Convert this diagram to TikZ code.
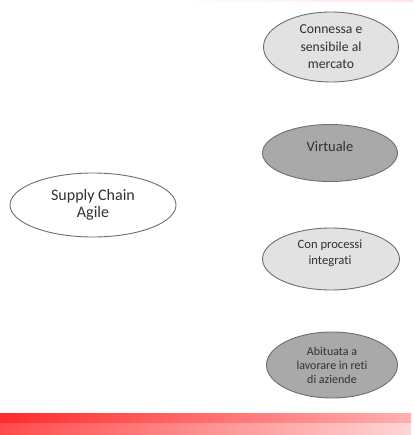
\documentclass[tikz,border=0pt]{standalone}
\usepackage{fontspec}
\setmainfont[Ligatures={NoCommon}]{Carlito}
\usetikzlibrary{shapes.geometric}
\definecolor{txt}{HTML}{303030}
\definecolor{edge}{HTML}{6E6E6E}
\definecolor{lightfill}{HTML}{E2E2E2}
\definecolor{darkfill}{HTML}{A9A9A9}
\definecolor{bandred}{HTML}{FF2A2A}
\definecolor{bandpink}{HTML}{FFB0B0}
\definecolor{lowred}{HTML}{FF4A4A}
\definecolor{lowpink}{HTML}{FFD6D6}
\tikzset{
  oval/.style={ellipse, draw=edge, line width=0.9pt, inner sep=0pt, text=txt, align=center},
  light/.style={oval, fill=lightfill},
  dark/.style={oval, fill=darkfill},
}
\begin{document}
\begin{tikzpicture}[x=1pt,y=-1pt]
\useasboundingbox (0,0) rectangle (413,435);
% top faint line
\shade[left color=white, right color=red!10] (170,0) rectangle (413,1.5);
% bottom band
\shade[left color=bandred, right color=bandpink] (0,413) rectangle (411,423);
\shade[left color=lowred, right color=lowpink] (0,423) rectangle (411,435);
% nodes
\node[oval, fill=white, minimum width=166pt, minimum height=64pt,
      font=\fontsize{16}{17}\selectfont] (sca) at (93,205) {Supply Chain\\Agile};
\node[light, minimum width=135pt, minimum height=70pt,
      font=\fontsize{13.7}{17.5}\selectfont] (conn) at (331,47) {Connessa e\\sensibile al\\mercato};
\node[dark, minimum width=135pt, minimum height=57pt] (virt) at (330,153) {};
\node[font=\fontsize{14.5}{17}\selectfont, text=txt] (virtt) at (330,147) {Virtuale};
\node[light, minimum width=137pt, minimum height=62pt] (proc) at (331,259) {};
\node[font=\fontsize{12.6}{16}\selectfont, text=txt, align=center] (proct) at (330,253) {Con processi\\integrati};
\node[dark, minimum width=131pt, minimum height=66pt,
      font=\fontsize{12}{14}\selectfont] (abit) at (332,365) {Abituata a\\lavorare in reti\\di aziende};
\end{tikzpicture}
\end{document}
